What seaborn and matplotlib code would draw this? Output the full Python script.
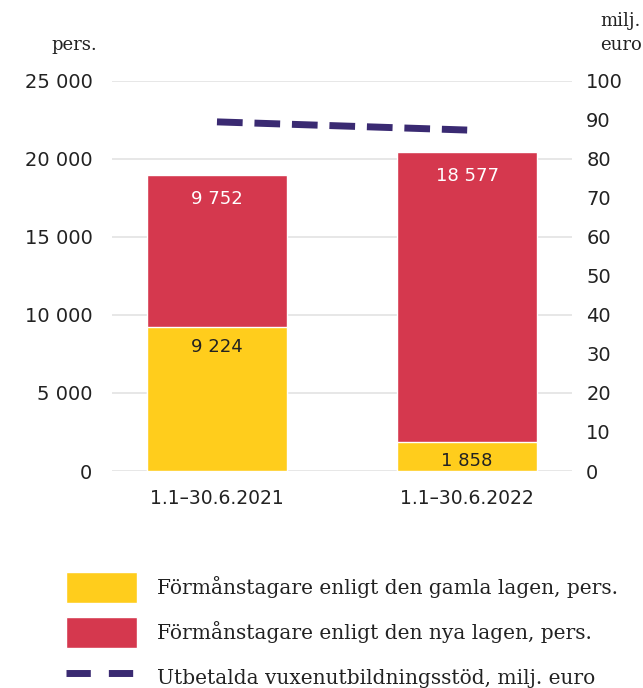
import matplotlib
matplotlib.use("Agg")
import matplotlib.pyplot as plt
import matplotlib.ticker as mticker
from matplotlib.patches import Patch
from matplotlib.lines import Line2D
import seaborn as sns
import pandas as pd

# data
periods = ["1.1–30.6.2021", "1.1–30.6.2022"]
gamla = [9224, 1858]
nya = [9752, 18577]
stod = [89.5, 87.4]

yellow = "#FFCD1C"
red = "#D5384E"
navy = "#3A2A72"
txt = "#222222"

sns.set_style("white")
plt.rcParams["font.family"] = ["DejaVu Sans"]

df = pd.DataFrame({"period": periods, "gamla": gamla, "nya": nya, "stod": stod})
df["total"] = df["gamla"] + df["nya"]

fig = plt.figure(figsize=(6.43, 6.88), dpi=100)
ax = fig.add_axes([0.174, 0.3154, 0.716, 0.567])

sns.barplot(data=df, x="period", y="total", color=red, width=0.56,
            saturation=1, ax=ax, zorder=2)
sns.barplot(data=df, x="period", y="gamla", color=yellow, width=0.56,
            saturation=1, ax=ax, zorder=3)

ax.set_xlim(-0.42, 1.42)
ax.set_ylim(0, 25000)
ax.set_yticks(range(0, 25001, 5000))
ax.yaxis.set_major_formatter(mticker.FuncFormatter(lambda v, p: f"{int(v):,}".replace(",", " ")))
ax.grid(axis="y", color="#E3E3E3", linewidth=1.2, zorder=0)
ax.set_axisbelow(True)
ax.set_xlabel("")
ax.set_ylabel("")
for s in ax.spines.values():
    s.set_visible(False)
ax.tick_params(axis="y", length=0, pad=14, labelsize=14, labelcolor=txt)
ax.tick_params(axis="x", length=0, pad=13, labelsize=13.5, labelcolor=txt)

# value labels
fmt = lambda v: f"{v:,}".replace(",", " ")
for i in range(len(periods)):
    ax.annotate(fmt(gamla[i]), (i, gamla[i]), xytext=(0, -14), textcoords="offset points",
                ha="center", va="center", fontsize=13, color=txt, zorder=5)
    ax.annotate(fmt(nya[i]), (i, gamla[i] + nya[i]), xytext=(0, -17), textcoords="offset points",
                ha="center", va="center", fontsize=13, color="white", zorder=5)

ax2 = ax.twinx()
sns.lineplot(x=[0, 1], y=df["stod"], ax=ax2, color=navy, linewidth=5,
             dashes=False, zorder=4)
ax2.lines[0].set_dashes((3.7, 1.7))
ax2.set_ylim(0, 100)
ax2.set_yticks(range(0, 101, 10))
ax2.set_ylabel("")
for s in ax2.spines.values():
    s.set_visible(False)
ax2.tick_params(axis="y", length=0, pad=10, labelsize=14, labelcolor=txt)

fig.text(97 / 643, 1 - 45 / 688, "pers.", ha="right", va="center",
         fontsize=13, color=txt, family="DejaVu Serif")
fig.text(600 / 643, 1 - 33 / 688, "milj.\neuro", ha="left", va="center",
         fontsize=13, color=txt, family="DejaVu Serif", linespacing=1.45)

handles = [
    Patch(facecolor=yellow, label="Förmånstagare enligt den gamla lagen, pers."),
    Patch(facecolor=red, label="Förmånstagare enligt den nya lagen, pers."),
    Line2D([], [], color=navy, linewidth=5, dashes=(3.5, 2.6),
           label="Utbetalda vuxenutbildningsstöd, milj. euro"),
]
fig.legend(handles=handles, loc="upper left", bbox_to_anchor=(58 / 643, 1 - 564 / 688),
           frameon=False, handlelength=3.5, handleheight=2.0, handletextpad=1.0,
           labelspacing=0.7, borderaxespad=0, prop={"family": "DejaVu Serif", "size": 14.5},
           labelcolor=txt)

fig.savefig("out.png", dpi=100)
